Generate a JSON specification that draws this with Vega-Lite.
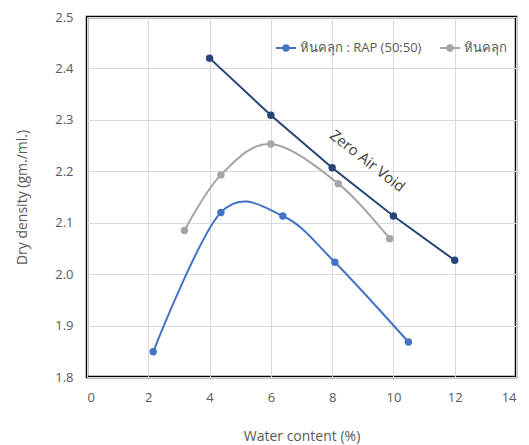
{
  "$schema": "https://vega.github.io/schema/vega-lite/v6.json",
  "width": 429,
  "height": 360,
  "autosize": {"type": "none"},
  "padding": {"left": 87, "top": 17, "right": 13, "bottom": 68},
  "config": {
    "font": "Open Sans",
    "view": {"stroke": "#000000", "strokeWidth": 2.5},
    "axis": {
      "domain": false,
      "ticks": false,
      "gridColor": "#d9d9d9",
      "gridWidth": 1,
      "labelColor": "#595959",
      "labelFontSize": 13,
      "titleColor": "#595959",
      "titleFontSize": 14,
      "titleFontWeight": "normal"
    }
  },
  "datasets": {
    "pts": [
      {"series": "หินคลุก : RAP (50:50)", "w": 2.16, "d": 1.849},
      {"series": "หินคลุก : RAP (50:50)", "w": 4.37, "d": 2.120},
      {"series": "หินคลุก : RAP (50:50)", "w": 6.39, "d": 2.113},
      {"series": "หินคลุก : RAP (50:50)", "w": 8.09, "d": 2.023},
      {"series": "หินคลุก : RAP (50:50)", "w": 10.49, "d": 1.868},
      {"series": "หินคลุก", "w": 3.18, "d": 2.085},
      {"series": "หินคลุก", "w": 4.37, "d": 2.193},
      {"series": "หินคลุก", "w": 6.0, "d": 2.253},
      {"series": "หินคลุก", "w": 8.2, "d": 2.176},
      {"series": "หินคลุก", "w": 9.88, "d": 2.069},
      {"series": "Zero Air Void", "w": 4.0, "d": 2.42},
      {"series": "Zero Air Void", "w": 6.0, "d": 2.309},
      {"series": "Zero Air Void", "w": 8.0, "d": 2.207},
      {"series": "Zero Air Void", "w": 10.0, "d": 2.113},
      {"series": "Zero Air Void", "w": 12.0, "d": 2.027}
    ],
    "labels": [
      {"w": 9.15, "d": 2.22, "label": "Zero Air Void"}
    ]
  },
  "layer": [
    {
      "data": {"name": "pts"},
      "transform": [{"filter": "datum.series !== 'Zero Air Void'"}],
      "mark": {"type": "line", "interpolate": "cardinal", "strokeWidth": 2, "point": {"filled": true, "size": 55}},
      "encoding": {
        "x": {
          "field": "w", "type": "quantitative",
          "scale": {"domain": [0, 14], "nice": false},
          "axis": {"values": [0, 2, 4, 6, 8, 10, 12, 14], "title": "Water content (%)", "labelPadding": 14, "titlePadding": 25}
        },
        "y": {
          "field": "d", "type": "quantitative",
          "scale": {"domain": [1.8, 2.5], "nice": false, "zero": false},
          "axis": {"values": [1.8, 1.9, 2.0, 2.1, 2.2, 2.3, 2.4, 2.5], "format": ".1f", "title": "Dry density (gm./ml.)", "labelPadding": 14, "titlePadding": 25}
        },
        "color": {
          "field": "series", "type": "nominal",
          "scale": {"domain": ["หินคลุก : RAP (50:50)", "หินคลุก"], "range": ["#4472C4", "#A5A5A5"]},
          "legend": {
            "title": null,
            "orient": "none",
            "direction": "horizontal",
            "legendX": 188,
            "legendY": 20,
            "symbolType": "M-1,0L1,0M0.27,0A0.27,0.27,0,1,1,-0.27,0A0.27,0.27,0,1,1,0.27,0Z",
            "symbolSize": 400,
            "symbolStrokeWidth": 2,
            "labelFontSize": 13,
            "labelColor": "#595959",
            "labelOffset": 3,
            "columnPadding": 14,
            "encode": {"symbols": {"update": {"fill": {"scale": "color", "field": "value"}}}}
          }
        }
      }
    },
    {
      "data": {"name": "pts"},
      "transform": [{"filter": "datum.series === 'Zero Air Void'"}],
      "mark": {"type": "line", "color": "#264478", "strokeWidth": 2, "point": {"filled": true, "size": 55, "color": "#264478"}},
      "encoding": {
        "x": {"field": "w", "type": "quantitative"},
        "y": {"field": "d", "type": "quantitative"}
      }
    },
    {
      "data": {"name": "labels"},
      "mark": {"type": "text", "angle": 38, "fontSize": 15, "color": "#404040", "align": "center", "baseline": "middle"},
      "encoding": {
        "x": {"field": "w", "type": "quantitative"},
        "y": {"field": "d", "type": "quantitative"},
        "text": {"field": "label"}
      }
    }
  ]
}
